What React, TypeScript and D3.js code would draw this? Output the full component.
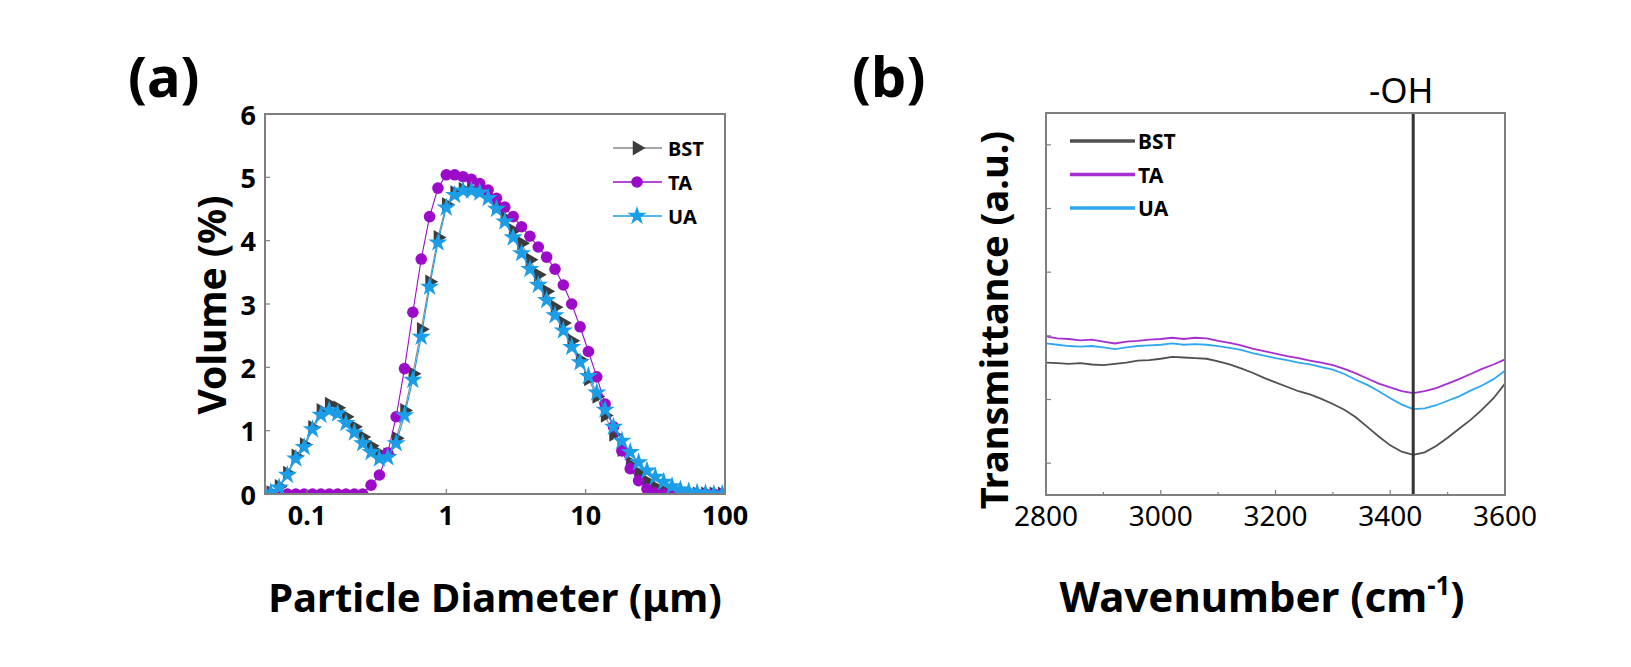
import React from "react";
import * as d3 from "d3";

// (a) particle size distribution, Mastersizer-style log bins (µm)
const sizes = [
  0.055, 0.0631, 0.0724, 0.0832, 0.0955, 0.1096, 0.1259, 0.1445, 0.166, 0.1905,
  0.2188, 0.2512, 0.2884, 0.3311, 0.3802, 0.4365, 0.5012, 0.5754, 0.6607, 0.7586,
  0.871, 1.0, 1.148, 1.318, 1.514, 1.738, 1.995, 2.291, 2.63, 3.02,
  3.467, 3.981, 4.571, 5.248, 6.026, 6.918, 7.943, 9.12, 10.47, 12.02,
  13.8, 15.85, 18.2, 20.89, 23.99, 27.54, 31.62, 36.31, 41.69, 47.86,
  54.95, 63.1, 72.44, 83.18, 95.5,
];
const bstVolume = [
  0.02, 0.12, 0.33, 0.6, 0.78, 1.05, 1.32, 1.42, 1.36, 1.22,
  1.06, 0.9, 0.76, 0.64, 0.62, 0.88, 1.32, 1.9, 2.6, 3.35,
  4.05, 4.57, 4.76, 4.81, 4.81, 4.78, 4.7, 4.55, 4.36, 4.16,
  3.96, 3.7, 3.46, 3.2, 2.95, 2.7, 2.42, 2.12, 1.82, 1.54,
  1.24, 0.94, 0.7, 0.5, 0.33, 0.2, 0.11, 0.05, 0.02, 0,
  0, 0, 0, 0, 0,
];
const taVolume = [
  0, 0, 0, 0, 0, 0, 0, 0, 0, 0,
  0, 0, 0.14, 0.3, 0.65, 1.22, 1.98, 2.87, 3.71, 4.38,
  4.83, 5.04, 5.04, 5.01, 4.97, 4.9, 4.8, 4.67, 4.53, 4.38,
  4.22, 4.07, 3.9, 3.74, 3.55, 3.3, 3.0, 2.64, 2.25, 1.85,
  1.42, 1.06, 0.68, 0.4, 0.21, 0.08, 0.02, 0, 0, 0,
  0, 0, 0, 0, 0,
];
const uaVolume = [
  0.02, 0.1, 0.3, 0.56, 0.74, 1.02, 1.25, 1.32, 1.27, 1.12,
  0.97, 0.8, 0.66, 0.56, 0.58, 0.8, 1.24, 1.8, 2.48, 3.27,
  3.97, 4.52, 4.72, 4.79, 4.79, 4.76, 4.67, 4.5, 4.3, 4.05,
  3.8, 3.55, 3.3, 3.06, 2.82, 2.58, 2.32, 2.08, 1.86, 1.6,
  1.33, 1.06, 0.84, 0.66, 0.5, 0.37, 0.27, 0.19, 0.12, 0.07,
  0.04, 0.02, 0.01, 0, 0,
];
const volumeTicks = [0, 1, 2, 3, 4, 5, 6];
const sizeTicks = [0.1, 1, 10, 100];

// (b) FTIR, arbitrary transmittance units
const wavenumbers = [
  2800, 2820, 2840, 2860, 2880, 2900, 2920, 2940, 2960, 2980, 3000, 3020, 3040, 3060,
  3080, 3100, 3120, 3140, 3160, 3180, 3200, 3220, 3240, 3260, 3280, 3300, 3320, 3340,
  3360, 3380, 3400, 3420, 3440, 3460, 3480, 3500, 3520, 3540, 3560, 3580, 3600,
];
const taTrans = [
  1.99, 1.96, 1.95, 1.93, 1.94, 1.91, 1.88, 1.91, 1.92, 1.94, 1.95, 1.97, 1.95, 1.97,
  1.96, 1.92, 1.89, 1.85, 1.8, 1.76, 1.72, 1.68, 1.65, 1.61, 1.58, 1.54, 1.48, 1.41,
  1.33, 1.25, 1.19, 1.13, 1.1, 1.13, 1.18, 1.25, 1.32, 1.4, 1.48, 1.55, 1.63,
];
const uaTrans = [
  1.88, 1.86, 1.84, 1.83, 1.84, 1.82, 1.79, 1.82, 1.84, 1.85, 1.86, 1.88, 1.86, 1.87,
  1.86, 1.84, 1.81, 1.78, 1.73, 1.69, 1.65, 1.62, 1.58, 1.55, 1.51, 1.47, 1.4, 1.31,
  1.23, 1.13, 1.02, 0.92, 0.85, 0.86, 0.91, 0.98, 1.05, 1.14, 1.22, 1.32, 1.45,
];
const bstTrans = [
  1.58, 1.57, 1.56, 1.57, 1.55, 1.54, 1.56, 1.58, 1.61, 1.62, 1.64, 1.67, 1.66, 1.65,
  1.64, 1.6, 1.55, 1.49, 1.42, 1.34, 1.27, 1.2, 1.13, 1.08, 1.01, 0.93, 0.84, 0.72,
  0.57, 0.42, 0.28, 0.18, 0.13, 0.17, 0.27, 0.4, 0.54, 0.68, 0.84, 1.02, 1.25,
];
const waveTicks = [2800, 3000, 3200, 3400, 3600];
const waveMinor = [2900, 3100, 3300, 3500];
const transTicks = [0, 1, 2, 3, 4, 5];
const ohPeak = 3440;

const FONT = "'Noto Sans', 'Open Sans', sans-serif";
const FRAME = "#7f7f7f";

const BST_MARK = "#3c3c3c";
const BST_LINE = "#8a8a8a";
const TA_COL = "#9c0cc8";
const UA_COL = "#1c9de8";

const TA_FT = "#a62fd2";
const UA_FT = "#2fa8ef";
const BST_FT = "#505050";

const PA = { left: 265, right: 725, top: 114, bottom: 494 };
const PB = { left: 1046, right: 1505, top: 113, bottom: 495 };

const triPath = d3.symbol(d3.symbolTriangle, 95)() as string;
const starPath = d3.symbol(d3.symbolStar, 115)() as string;

function Marker({ kind, x, y }: { kind: string; x: number; y: number }) {
  if (kind === "tri")
    return <path d={triPath} transform={`translate(${x},${y}) rotate(90)`} fill={BST_MARK} />;
  if (kind === "circle") return <circle cx={x} cy={y} r={5.8} fill={TA_COL} />;
  return <path d={starPath} transform={`translate(${x},${y})`} fill={UA_COL} />;
}

const PanelA = () => {
  const x = d3.scaleLog().domain([0.05, 100]).range([PA.left, PA.right]);
  const y = d3.scaleLinear().domain([0, 6]).range([PA.bottom, PA.top]);
  const line = d3
    .line<number>()
    .x((_, i) => x(sizes[i]))
    .y((d) => y(d));

  const series = [
    { name: "BST", vals: bstVolume, line: BST_LINE, kind: "tri" },
    { name: "TA", vals: taVolume, line: TA_COL, kind: "circle" },
    { name: "UA", vals: uaVolume, line: UA_COL, kind: "star" },
  ];

  return (
    <g>
      <defs>
        <clipPath id="clipA">
          <rect x={PA.left} y={PA.top} width={PA.right - PA.left} height={PA.bottom - PA.top} />
        </clipPath>
      </defs>
      <g clipPath="url(#clipA)">
        {series.map((s) => (
          <g key={s.name}>
            <path d={line(s.vals) as string} fill="none" stroke={s.line} strokeWidth={1.1} />
            {s.vals.map((v, i) => (
              <Marker key={i} kind={s.kind} x={x(sizes[i])} y={y(v)} />
            ))}
          </g>
        ))}
      </g>
      <rect
        x={PA.left}
        y={PA.top}
        width={PA.right - PA.left}
        height={PA.bottom - PA.top}
        fill="none"
        stroke={FRAME}
        strokeWidth={2}
      />
      {volumeTicks.map((t) => (
        <g key={t}>
          <line x1={PA.left} x2={PA.left + 5} y1={y(t)} y2={y(t)} stroke={FRAME} strokeWidth={1.2} />
          <text
            x={PA.left - 9}
            y={y(t)}
            textAnchor="end"
            dominantBaseline="central"
            fontSize={27}
            fontWeight={700}
            fontFamily={FONT}
          >
            {t}
          </text>
        </g>
      ))}
      {sizeTicks.map((t) => (
        <g key={t}>
          <line x1={x(t)} x2={x(t)} y1={PA.bottom} y2={PA.bottom - 5} stroke={FRAME} strokeWidth={1.2} />
          <text x={x(t)} y={525} textAnchor="middle" fontSize={27} fontWeight={700} fontFamily={FONT}>
            {t}
          </text>
        </g>
      ))}
      {/* legend */}
      {series.map((s, i) => {
        const ly = 148 + i * 34;
        return (
          <g key={s.name}>
            <line x1={613} x2={662} y1={ly} y2={ly} stroke={s.line} strokeWidth={1.5} />
            <Marker kind={s.kind} x={637} y={ly} />
            <text x={668} y={ly} dominantBaseline="central" fontSize={20} fontWeight={700} fontFamily={FONT}>
              {s.name}
            </text>
          </g>
        );
      })}
      <text
        transform="translate(226,305) rotate(-90)"
        textAnchor="middle"
        fontSize={39}
        fontWeight={700}
        fontFamily={FONT}
      >
        Volume (%)
      </text>
      <text x={495} y={612} textAnchor="middle" fontSize={40} fontWeight={700} fontFamily={FONT}>
        Particle Diameter (μm)
      </text>
      <text x={128} y={97} fontSize={56} fontWeight={700} fontFamily={FONT}>
        (a)
      </text>
    </g>
  );
};

const PanelB = () => {
  const x = d3.scaleLinear().domain([2800, 3600]).range([PB.left, PB.right]);
  const y = d3.scaleLinear().domain([-0.5, 5.5]).range([PB.bottom, PB.top]);
  const line = d3
    .line<number>()
    .x((_, i) => x(wavenumbers[i]))
    .y((d) => y(d));

  const series = [
    { name: "BST", vals: bstTrans, color: BST_FT },
    { name: "TA", vals: taTrans, color: TA_FT },
    { name: "UA", vals: uaTrans, color: UA_FT },
  ];

  return (
    <g>
      {series.map((s) => (
        <path key={s.name} d={line(s.vals) as string} fill="none" stroke={s.color} strokeWidth={1.8} />
      ))}
      <line x1={x(ohPeak)} x2={x(ohPeak)} y1={PB.top} y2={PB.bottom} stroke="#333" strokeWidth={3} />
      <rect
        x={PB.left}
        y={PB.top}
        width={PB.right - PB.left}
        height={PB.bottom - PB.top}
        fill="none"
        stroke={FRAME}
        strokeWidth={2}
      />
      {transTicks.map((t) => (
        <line key={t} x1={PB.left} x2={PB.left + 5} y1={y(t)} y2={y(t)} stroke={FRAME} strokeWidth={1.2} />
      ))}
      {waveTicks.map((t) => (
        <g key={t}>
          <line x1={x(t)} x2={x(t)} y1={PB.bottom} y2={PB.bottom - 5} stroke={FRAME} strokeWidth={1.2} />
          <text x={x(t)} y={526} textAnchor="middle" fontSize={28} fontFamily={FONT}>
            {t}
          </text>
        </g>
      ))}
      {waveMinor.map((t) => (
        <line key={t} x1={x(t)} x2={x(t)} y1={PB.bottom} y2={PB.bottom - 3} stroke={FRAME} strokeWidth={1.2} />
      ))}
      {series.map((s, i) => {
        const ly = 141 + i * 33.5;
        return (
          <g key={s.name}>
            <line x1={1070} x2={1135} y1={ly} y2={ly} stroke={s.color} strokeWidth={3.5} />
            <text x={1138} y={ly} dominantBaseline="central" fontSize={21} fontWeight={700} fontFamily={FONT}>
              {s.name}
            </text>
          </g>
        );
      })}
      <text x={x(ohPeak) - 12} y={103} textAnchor="middle" fontSize={35} fontFamily={FONT}>
        -OH
      </text>
      <text
        transform="translate(1008,320) rotate(-90)"
        textAnchor="middle"
        fontSize={38}
        fontWeight={700}
        fontFamily={FONT}
      >
        Transmittance (a.u.)
      </text>
      <text x={1262} y={612} textAnchor="middle" fontSize={42} fontWeight={700} fontFamily={FONT}>
        Wavenumber (cm
        <tspan fontSize={26} dy={-17}>
          -1
        </tspan>
        <tspan dy={17}>)</tspan>
      </text>
      <text x={852} y={97} fontSize={56} fontWeight={700} fontFamily={FONT}>
        (b)
      </text>
    </g>
  );
};

export default function App() {
  return (
    <svg
      width={1631}
      height={667}
      style={{ position: "absolute", left: 0, top: 0, background: "#fff" }}
    >
      <rect width={1631} height={667} fill="#fff" />
      <PanelA />
      <PanelB />
    </svg>
  );
}
